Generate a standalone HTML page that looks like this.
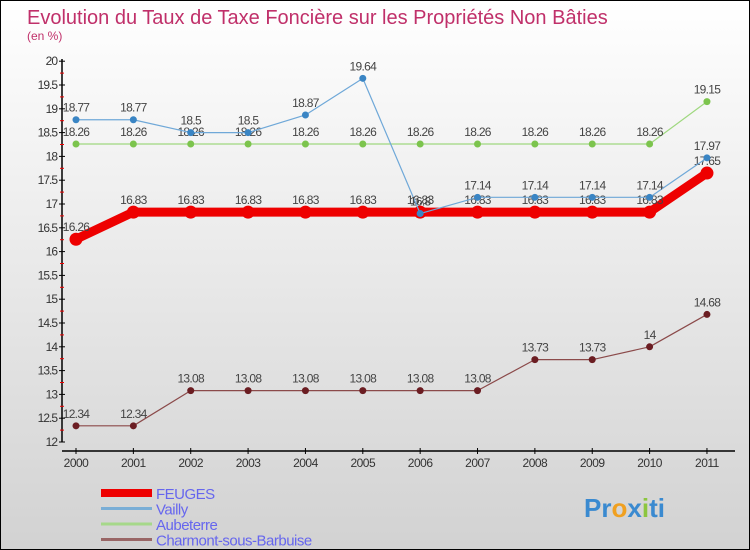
<!DOCTYPE html>
<html><head><meta charset="utf-8"><style>
body{margin:0}
#c{width:750px;height:550px;position:relative;overflow:hidden;box-sizing:border-box;border:1px solid #000;background:linear-gradient(#ffffff,#d2d2d2);font-family:"Liberation Sans",sans-serif}
</style></head><body>
<div id="c">
<svg id="s" width="750" height="550" style="position:absolute;left:0;top:0">
<text x="26" y="23" font-size="20" fill="#c0306a">Evolution du Taux de Taxe Foncière sur les Propriétés Non Bâties</text>
<text x="26" y="39" font-size="12" fill="#c0306a">(en %)</text>
</svg>
</div>
<script>
const years=["2000","2001","2002","2003","2004","2005","2006","2007","2008","2009","2010","2011"];
const yTicks=["12","12.5","13","13.5","14","14.5","15","15.5","16","16.5","17","17.5","18","18.5","19","19.5","20"];
const feuges=[16.26,16.83,16.83,16.83,16.83,16.83,16.83,16.83,16.83,16.83,16.83,17.65];
const vailly=[18.77,18.77,18.5,18.5,18.87,19.64,16.8,17.14,17.14,17.14,17.14,17.97];
const aubeterre=[18.26,18.26,18.26,18.26,18.26,18.26,18.26,18.26,18.26,18.26,18.26,19.15];
const charmont=[12.34,12.34,13.08,13.08,13.08,13.08,13.08,13.08,13.73,13.73,14,14.68];
const names=["FEUGES","Vailly","Aubeterre","Charmont-sous-Barbuise"];
const NS="http://www.w3.org/2000/svg";
const svg=document.getElementById('s');
const X=i=>75+i*57.36;
const Y=v=>441-(v-12)*47.6;
function el(t,a,p){const e=document.createElementNS(NS,t);for(const k in a)e.setAttribute(k,a[k]);(p||svg).appendChild(e);return e;}
let ax=el('line',{x1:61,y1:58,x2:61,y2:441,stroke:'#000','stroke-width':1.5});


let xa=el('line',{x1:61,y1:450,x2:734,y2:450,stroke:'#000','stroke-width':1.5});


yTicks.forEach(t=>{const v=+t,y=Y(v);
 el('line',{x1:58,y1:y,x2:64,y2:y,stroke:'#000'});
 if(v<20)el('line',{x1:59,y1:Y(v+0.25),x2:63,y2:Y(v+0.25),stroke:'#e00'});
 const tx=el('text',{x:56,y:y+4,'font-size':12,'text-anchor':'end',fill:'#333','letter-spacing':'-1'});tx.textContent=t;
 
 
});
years.forEach((yr,i)=>{el('line',{x1:X(i),y1:447,x2:X(i),y2:453,stroke:'#000'});
 const tx=el('text',{x:X(i),y:466,'font-size':12,'text-anchor':'middle',fill:'#333','letter-spacing':'-0.5'});tx.textContent=yr;
 
 
});
function series(d,col,w,r,dot,name){
 const g=el('g',{});
 
 
 el('polyline',{points:d.map((v,i)=>X(i)+','+Y(v)).join(' '),fill:'none',stroke:col,'stroke-width':w,'stroke-linejoin':'round'},g);
 d.forEach((v,i)=>{const c=el('circle',{cx:X(i),cy:Y(v),r:r,fill:dot},g);
  
  
  const t=el('text',{x:X(i),y:Y(v)-8,'font-size':12,'text-anchor':'middle',fill:'#444','letter-spacing':'-0.7'},g);t.textContent=String(v);
  
  
 });
}
series(charmont,'#8b4a4a',1.2,3.5,'#6b1d22','charmont');
series(aubeterre,'#9fd87f',1.2,3.5,'#7cc44d','aubeterre');
series(feuges,'#e00',9,6.5,'#e00','feuges');
series(vailly,'#6fa8d8',1.2,3.5,'#3a85c4','vailly');
const cols=['#e00','#7aaed6','#a6d88a','#996666'],ws=[8,3,3,3];
names.forEach((n,i)=>{const y=492+i*15.5;
 const l=el('line',{x1:100,y1:y,x2:151,y2:y,stroke:cols[i],'stroke-width':ws[i]});
 
 
 const t=el('text',{x:155,y:y+6,'font-size':15,fill:'#6666ee','letter-spacing':'-0.5'});t.textContent=n;
 
 
});
const logo=el('text',{x:583,y:516,'font-size':26,'font-weight':'bold',fill:'#3a8ad0'});
logo.innerHTML='<tspan fill="#3a8ad0">Pr</tspan><tspan fill="#f0a020">o</tspan><tspan fill="#3a8ad0">x</tspan><tspan fill="#8cc63f">i</tspan><tspan fill="#3a8ad0">ti</tspan>';


</script>
</body></html>
